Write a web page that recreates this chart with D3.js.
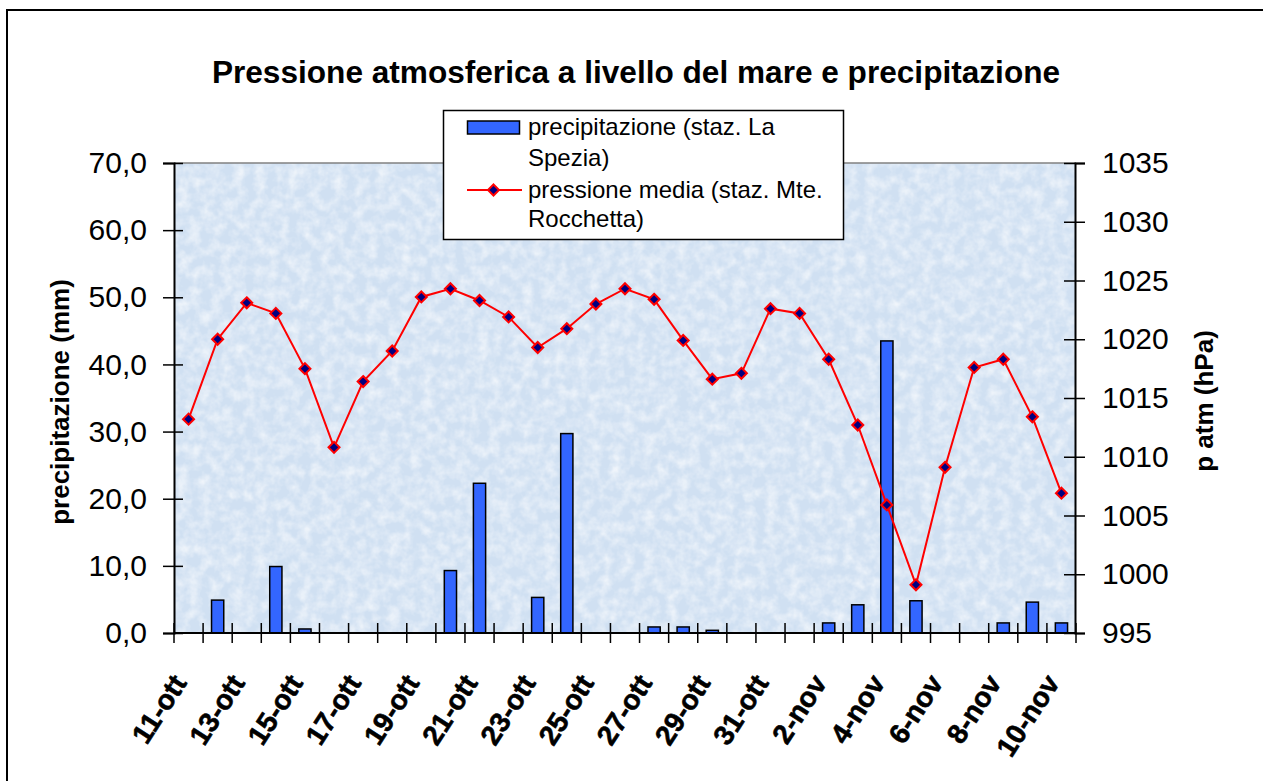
<!DOCTYPE html>
<html>
<head>
<meta charset="utf-8">
<script src="https://cdn.jsdelivr.net/npm/d3@7"></script>
<style>
  html, body { margin: 0; padding: 0; background: #ffffff; }
  svg { display: block; font-family: "Liberation Sans", Arial, sans-serif; }
</style>
</head>
<body>
<svg id="chart" width="1263" height="781"></svg>
<script>
const categories = ["11-ott","12-ott","13-ott","14-ott","15-ott","16-ott","17-ott","18-ott","19-ott","20-ott",
  "21-ott","22-ott","23-ott","24-ott","25-ott","26-ott","27-ott","28-ott","29-ott","30-ott","31-ott",
  "1-nov","2-nov","3-nov","4-nov","5-nov","6-nov","7-nov","8-nov","9-nov","10-nov"];
const precipitazione = [0, 4.9, 0, 9.9, 0.6, 0, 0, 0, 0, 9.3,
  22.3, 0, 5.3, 29.7, 0, 0, 0.9, 0.9, 0.4, 0, 0,
  0, 1.5, 4.2, 43.5, 4.8, 0, 0, 1.5, 4.6, 1.5];
const pressione = [1013.2, 1020.0, 1023.1, 1022.2, 1017.5, 1010.8, 1016.4, 1019.0, 1023.6, 1024.3,
  1023.3, 1021.9, 1019.3, 1020.9, 1023.0, 1024.3, 1023.4, 1019.9, 1016.6, 1017.1, 1022.6,
  1022.2, 1018.3, 1012.7, 1005.9, 999.1, 1009.1, 1017.6, 1018.3, 1013.4, 1006.9];
const leftTicks = [0, 10, 20, 30, 40, 50, 60, 70];
const rightTicks = [995, 1000, 1005, 1010, 1015, 1020, 1025, 1030, 1035];
const xLabels = ["11-ott","13-ott","15-ott","17-ott","19-ott","21-ott","23-ott","25-ott","27-ott","29-ott","31-ott",
  "2-nov","4-nov","6-nov","8-nov","10-nov"];
const titleText = "Pressione atmosferica a livello del mare e precipitazione";
const leftTitle = "precipitazione (mm)";
const rightTitle = "p atm (hPa)";
const legendLines1 = ["precipitazione (staz. La", "Spezia)"];
const legendLines2 = ["pressione media (staz. Mte.", "Rocchetta)"];

const svg = d3.select("#chart");
const L = 174, R = 1076, T = 163, B = 633;

const x = d3.scaleBand().domain(categories).range([L, R]).padding(0);
const yL = d3.scaleLinear().domain([0, 70]).range([B, T]);
const yR = d3.scaleLinear().domain([995, 1035]).range([B, T]);

// defs: texture
const defs = svg.append("defs");
const f = defs.append("filter").attr("id", "tex").attr("x", 0).attr("y", 0).attr("width", 1).attr("height", 1);
f.append("feTurbulence").attr("type", "fractalNoise").attr("baseFrequency", "0.09").attr("numOctaves", 3).attr("seed", 4);
f.append("feColorMatrix").attr("type", "matrix")
  .attr("values", "0 0 0 0 1  0 0 0 0 1  0 0 0 0 1  0 0 0 1.3 -0.45");

// outer frame
svg.append("rect").attr("x", 7).attr("y", 10).attr("width", 1300).attr("height", 800)
  .attr("fill", "#ffffff").attr("stroke", "#000").attr("stroke-width", 2);

// plot background
svg.append("rect").attr("x", L).attr("y", T).attr("width", R - L).attr("height", B - T)
  .attr("fill", "#d0e0f2");
svg.append("rect").attr("x", L).attr("y", T).attr("width", R - L).attr("height", B - T)
  .attr("filter", "url(#tex)").attr("opacity", 0.9);
svg.append("line").attr("x1", L).attr("x2", R).attr("y1", T).attr("y2", T)
  .attr("stroke", "#808080").attr("stroke-width", 1.5);

// title
svg.append("text").attr("x", 636).attr("y", 83).attr("text-anchor", "middle")
  .attr("font-size", 31.6).attr("font-weight", "bold").attr("fill", "#000").text(titleText);

// bars
const bw = x.bandwidth() * 0.42;
svg.append("g").selectAll("rect").data(categories).join("rect")
  .attr("x", (d) => x(d) + (x.bandwidth() - bw) / 2)
  .attr("y", (d, i) => yL(precipitazione[i]))
  .attr("width", bw)
  .attr("height", (d, i) => B - yL(precipitazione[i]))
  .attr("fill", "#3366ff").attr("stroke", "#000").attr("stroke-width", 1.5)
  .style("display", (d, i) => precipitazione[i] > 0 ? null : "none");

// axes
const gL = svg.append("g").attr("transform", `translate(${L},0)`)
  .call(d3.axisLeft(yL).tickValues(leftTicks).tickSize(11).tickPadding(16)
    .tickFormat(d => d3.format(".1f")(d).replace(".", ",")));
gL.select(".domain").attr("stroke", "#000").attr("stroke-width", 2);
gL.selectAll(".tick line").attr("x1", -11).attr("x2", 9).attr("stroke", "#000").attr("stroke-width", 1.5);
gL.selectAll(".tick text").attr("font-size", 30).attr("font-family", "Liberation Sans, Arial, sans-serif").attr("fill", "#000");

const gR = svg.append("g").attr("transform", `translate(${R - 1},0)`)
  .call(d3.axisRight(yR).tickValues(rightTicks).tickSize(10).tickPadding(17).tickFormat(d3.format("d")));
gR.select(".domain").attr("stroke", "#000").attr("stroke-width", 2);
gR.selectAll(".tick line").attr("x1", -11).attr("x2", 10).attr("stroke", "#000").attr("stroke-width", 1.5);
gR.selectAll(".tick text").attr("font-size", 30).attr("font-family", "Liberation Sans, Arial, sans-serif").attr("fill", "#000");

// x axis
const gX = svg.append("g");
gX.append("line").attr("x1", L).attr("x2", R).attr("y1", B).attr("y2", B).attr("stroke", "#000").attr("stroke-width", 2);
const bounds = categories.map(c => x(c)).concat([x(categories[categories.length - 1]) + x.bandwidth()]);
gX.selectAll("line.tk").data(bounds).join("line").attr("class", "tk")
  .attr("x1", d => d).attr("x2", d => d).attr("y1", B - 10).attr("y2", B + 10)
  .attr("stroke", "#000").attr("stroke-width", 1.5);
gX.selectAll("text").data(xLabels).join("text")
  .attr("transform", d => `translate(${x(d) + x.bandwidth() / 2 - 1},683) rotate(-57)`)
  .attr("text-anchor", "end").attr("font-size", 28).attr("font-weight", "bold").attr("fill", "#000")
  .attr("stroke", "#000").attr("stroke-width", 0.6)
  .text(d => d);

// axis titles
svg.append("text").attr("transform", "translate(69,402) rotate(-90)").attr("text-anchor", "middle")
  .attr("font-size", 26).attr("font-weight", "bold").text(leftTitle);
svg.append("text").attr("transform", "translate(1213,401) rotate(-90)").attr("text-anchor", "middle")
  .attr("font-size", 26).attr("font-weight", "bold").text(rightTitle);

// line
const line = d3.line().x((d, i) => x(categories[i]) + x.bandwidth() / 2).y(d => yR(d));
svg.append("path").datum(pressione).attr("d", line).attr("fill", "none")
  .attr("stroke", "#ff0000").attr("stroke-width", 2);
const diamond = "M0,-5.5L5.5,0L0,5.5L-5.5,0Z";
svg.append("g").selectAll("path").data(pressione).join("path")
  .attr("d", diamond)
  .attr("transform", (d, i) => `translate(${x(categories[i]) + x.bandwidth() / 2},${yR(d)})`)
  .attr("fill", "#000080").attr("stroke", "#ff0000").attr("stroke-width", 2);

// legend
const lg = svg.append("g");
lg.append("rect").attr("x", 443.5).attr("y", 110.5).attr("width", 400).attr("height", 129)
  .attr("fill", "#fff").attr("stroke", "#000").attr("stroke-width", 1.5);
lg.append("rect").attr("x", 467.5).attr("y", 121).attr("width", 52).attr("height", 13)
  .attr("fill", "#3366ff").attr("stroke", "#000").attr("stroke-width", 1.5);
lg.append("line").attr("x1", 467).attr("x2", 522).attr("y1", 190).attr("y2", 190)
  .attr("stroke", "#ff0000").attr("stroke-width", 2);
lg.append("path").attr("d", diamond).attr("transform", "translate(493.5,190)")
  .attr("fill", "#000080").attr("stroke", "#ff0000").attr("stroke-width", 2);
const ys = [135, 165.5, 198, 226.5];
legendLines1.concat(legendLines2).forEach((t, i) => {
  lg.append("text").attr("x", 528).attr("y", ys[i]).attr("font-size", 24).attr("fill", "#000").text(t);
});
</script>
</body>
</html>
